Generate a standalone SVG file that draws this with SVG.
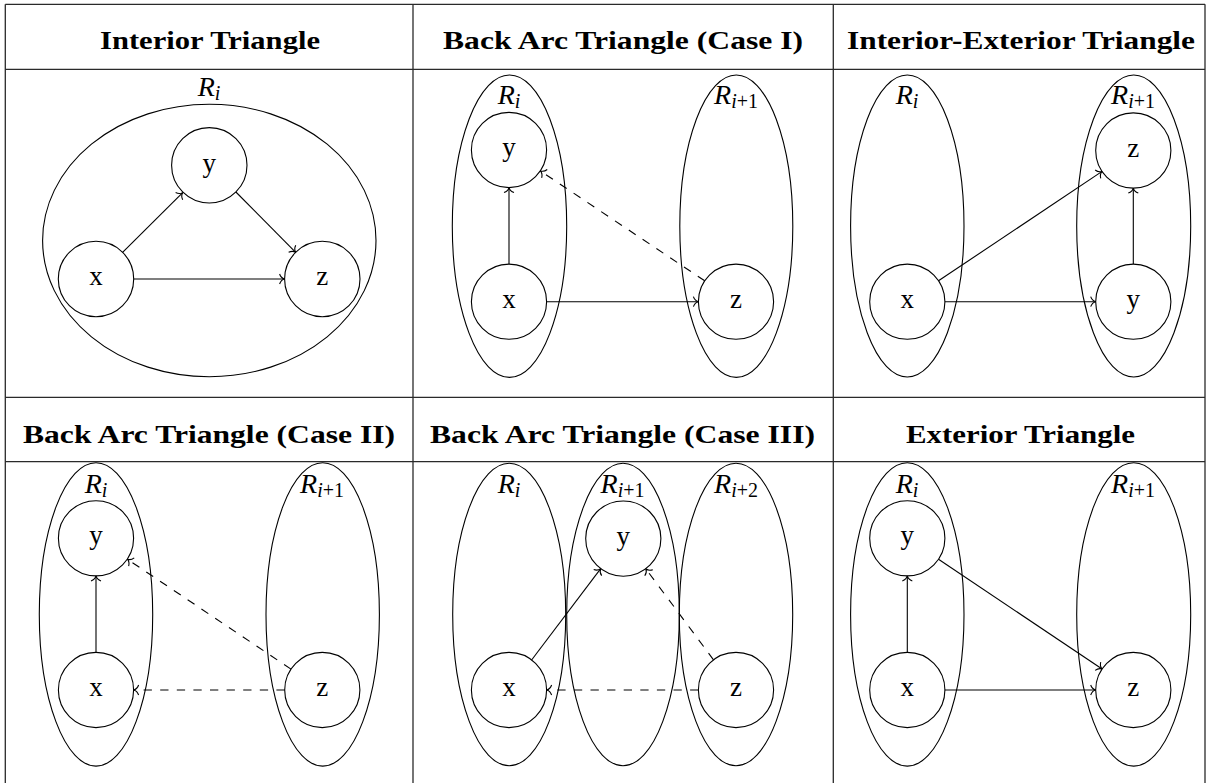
<svg xmlns="http://www.w3.org/2000/svg" width="1208" height="783" viewBox="0 0 1208 783">
<style>
.grid{stroke:#2a2a2a;stroke-width:1.3;fill:none}
.hdr{font-family:"Liberation Serif",serif;font-weight:bold;font-size:26px;fill:#000;text-anchor:middle}
.reg{fill:none;stroke:#000;stroke-width:1.1}
.nd{fill:none;stroke:#000;stroke-width:1.1}
.lbl{font-family:"Liberation Serif",serif;font-size:27px;fill:#000;text-anchor:middle}
.rl{font-family:"Liberation Serif",serif;font-size:28px;font-style:italic;fill:#000;text-anchor:middle}
.sub{font-size:20px}
.up{font-style:normal}
.e{fill:none;stroke:#000;stroke-width:1.1;marker-end:url(#arr)}
.d{stroke-dasharray:8.3 8.3}
</style>
<defs>
<marker id="arr" markerUnits="userSpaceOnUse" markerWidth="14" markerHeight="14" viewBox="-7 -7 14 14" refX="0" refY="0" orient="auto" overflow="visible">
<path d="M-5,-5 C-4,-2 -1.6,-0.4 0,0 C-1.6,0.4 -4,2 -5,5" fill="none" stroke="#000" stroke-width="1.1" stroke-dasharray="none"/>
</marker>
</defs>
<rect width="1208" height="783" fill="#fff"/>
<g id="table">
<line class="grid" x1="5.3" y1="4.3" x2="1205" y2="4.3"/>
<line class="grid" x1="5.3" y1="69.3" x2="1205" y2="69.3"/>
<line class="grid" x1="5.3" y1="397.3" x2="1205" y2="397.3"/>
<line class="grid" x1="5.3" y1="461.7" x2="1205" y2="461.7"/>
<line class="grid" x1="5.3" y1="4.3" x2="5.3" y2="783"/>
<line class="grid" x1="413" y1="4.3" x2="413" y2="783"/>
<line class="grid" x1="833.3" y1="4.3" x2="833.3" y2="783"/>
<line class="grid" x1="1205" y1="4.3" x2="1205" y2="783"/>
<text class="hdr" x="210" y="49" textLength="220" lengthAdjust="spacingAndGlyphs">Interior Triangle</text>
<text class="hdr" x="623" y="49" textLength="360" lengthAdjust="spacingAndGlyphs">Back Arc Triangle (Case I)</text>
<text class="hdr" x="1021" y="49" textLength="348" lengthAdjust="spacingAndGlyphs">Interior-Exterior Triangle</text>
<text class="hdr" x="209" y="443" textLength="372" lengthAdjust="spacingAndGlyphs">Back Arc Triangle (Case II)</text>
<text class="hdr" x="622.5" y="443" textLength="385" lengthAdjust="spacingAndGlyphs">Back Arc Triangle (Case III)</text>
<text class="hdr" x="1020.5" y="443" textLength="229" lengthAdjust="spacingAndGlyphs">Exterior Triangle</text>
</g>

<!-- Cell 1: Interior Triangle -->
<g id="c1-Ri">
<ellipse class="reg" cx="209.3" cy="240.5" rx="166.7" ry="136.2"/>
<text class="rl" x="209" y="96">R<tspan class="sub" dy="4">i</tspan></text>
</g>
<g id="c1-y"><circle class="nd" cx="209.3" cy="165.3" r="37.7"/><text class="lbl" x="209.3" y="171.5">y</text></g>
<g id="c1-x"><circle class="nd" cx="96" cy="279" r="37.7"/><text class="lbl" x="96" y="285">x</text></g>
<g id="c1-z"><circle class="nd" cx="322.3" cy="279" r="37.7"/><text class="lbl" x="322.3" y="285">z</text></g>

<!-- Cell 2: Back Arc Case I -->
<g id="c2-Ri">
<ellipse class="reg" cx="509.5" cy="226.2" rx="57.2" ry="151.2"/>
<text class="rl" x="509" y="104">R<tspan class="sub" dy="4">i</tspan></text>
</g>
<g id="c2-Ri1">
<ellipse class="reg" cx="736.3" cy="226.2" rx="56.5" ry="151.2"/>
<text class="rl" x="736" y="104">R<tspan class="sub" dy="4">i<tspan class="up">+1</tspan></tspan></text>
</g>
<g id="c2-y"><circle class="nd" cx="509" cy="150" r="37.6"/><text class="lbl" x="509" y="156">y</text></g>
<g id="c2-x"><circle class="nd" cx="509" cy="301.7" r="37.6"/><text class="lbl" x="509" y="307.7">x</text></g>
<g id="c2-z"><circle class="nd" cx="736" cy="301.7" r="37.6"/><text class="lbl" x="736" y="307.7">z</text></g>

<!-- Cell 3: Interior-Exterior -->
<g id="c3-Ri">
<ellipse class="reg" cx="907.3" cy="226" rx="56.7" ry="151"/>
<text class="rl" x="907" y="104">R<tspan class="sub" dy="4">i</tspan></text>
</g>
<g id="c3-Ri1">
<ellipse class="reg" cx="1133.7" cy="226" rx="57" ry="151"/>
<text class="rl" x="1133" y="104">R<tspan class="sub" dy="4">i<tspan class="up">+1</tspan></tspan></text>
</g>
<g id="c3-z"><circle class="nd" cx="1133.3" cy="150.5" r="37.6"/><text class="lbl" x="1133.3" y="156.5">z</text></g>
<g id="c3-y"><circle class="nd" cx="1133.3" cy="301.7" r="37.6"/><text class="lbl" x="1133.3" y="307.7">y</text></g>
<g id="c3-x"><circle class="nd" cx="907.3" cy="301.7" r="37.6"/><text class="lbl" x="907.3" y="307.7">x</text></g>

<!-- Cell 4: Back Arc Case II -->
<g id="c4-Ri">
<ellipse class="reg" cx="96" cy="614.4" rx="56.7" ry="151.7"/>
<text class="rl" x="96" y="493">R<tspan class="sub" dy="4">i</tspan></text>
</g>
<g id="c4-Ri1">
<ellipse class="reg" cx="322.7" cy="614.4" rx="56.7" ry="151.7"/>
<text class="rl" x="322" y="493">R<tspan class="sub" dy="4">i<tspan class="up">+1</tspan></tspan></text>
</g>
<g id="c4-y"><circle class="nd" cx="96" cy="538.3" r="37.6"/><text class="lbl" x="96" y="544.3">y</text></g>
<g id="c4-x"><circle class="nd" cx="96" cy="690" r="37.6"/><text class="lbl" x="96" y="696">x</text></g>
<g id="c4-z"><circle class="nd" cx="322.3" cy="690" r="37.6"/><text class="lbl" x="322.3" y="696">z</text></g>

<!-- Cell 5: Back Arc Case III -->
<g id="c5-Ri">
<ellipse class="reg" cx="509.2" cy="614.5" rx="56.5" ry="151.2"/>
<text class="rl" x="509" y="493">R<tspan class="sub" dy="4">i</tspan></text>
</g>
<g id="c5-Ri1">
<ellipse class="reg" cx="623" cy="614.5" rx="56.3" ry="151.2"/>
<text class="rl" x="622.5" y="493">R<tspan class="sub" dy="4">i<tspan class="up">+1</tspan></tspan></text>
</g>
<g id="c5-Ri2">
<ellipse class="reg" cx="736" cy="614.5" rx="56.7" ry="151.2"/>
<text class="rl" x="736" y="493">R<tspan class="sub" dy="4">i<tspan class="up">+2</tspan></tspan></text>
</g>
<g id="c5-y"><circle class="nd" cx="623.3" cy="538.6" r="37.6"/><text class="lbl" x="623.3" y="544.6">y</text></g>
<g id="c5-x"><circle class="nd" cx="509" cy="690" r="37.6"/><text class="lbl" x="509" y="696">x</text></g>
<g id="c5-z"><circle class="nd" cx="736" cy="690" r="37.6"/><text class="lbl" x="736" y="696">z</text></g>

<!-- Cell 6: Exterior -->
<g id="c6-Ri">
<ellipse class="reg" cx="907.3" cy="614.4" rx="56.7" ry="151.7"/>
<text class="rl" x="907" y="493">R<tspan class="sub" dy="4">i</tspan></text>
</g>
<g id="c6-Ri1">
<ellipse class="reg" cx="1133.7" cy="614.4" rx="57" ry="151.7"/>
<text class="rl" x="1133" y="493">R<tspan class="sub" dy="4">i<tspan class="up">+1</tspan></tspan></text>
</g>
<g id="c6-y"><circle class="nd" cx="907.3" cy="538.3" r="37.6"/><text class="lbl" x="907.3" y="544.3">y</text></g>
<g id="c6-x"><circle class="nd" cx="907.3" cy="690" r="37.6"/><text class="lbl" x="907.3" y="696">x</text></g>
<g id="c6-z"><circle class="nd" cx="1133.3" cy="690" r="37.6"/><text class="lbl" x="1133.3" y="696">z</text></g>

<g id="connectors">
<!-- cell 1 -->
<line class="e" x1="122.6" y1="252.3" x2="182.7" y2="192.6"/>
<line class="e" x1="235.9" y1="192" x2="295.7" y2="252.3"/>
<line class="e" x1="133.7" y1="279" x2="284.6" y2="279"/>
<!-- cell 2 -->
<line class="e" x1="509" y1="264.1" x2="509" y2="187.6"/>
<line class="e d" x1="704.7" y1="280.8" x2="540.3" y2="170.9"/>
<line class="e" x1="546.6" y1="301.7" x2="698.4" y2="301.7"/>
<!-- cell 3 -->
<line class="e" x1="938.5" y1="280.8" x2="1102.1" y2="171.4"/>
<line class="e" x1="944.9" y1="301.7" x2="1095.7" y2="301.7"/>
<line class="e" x1="1133.3" y1="264.1" x2="1133.3" y2="188.1"/>
<!-- cell 4 -->
<line class="e" x1="96" y1="652.4" x2="96" y2="575.9"/>
<line class="e d" x1="291" y1="669.1" x2="127.3" y2="559.2"/>
<line class="e d" x1="284.7" y1="690" x2="133.6" y2="690"/>
<!-- cell 5 -->
<line class="e" x1="531.6" y1="660" x2="600.7" y2="568.6"/>
<line class="e d" x1="713.5" y1="659.8" x2="645.8" y2="568.8"/>
<line class="e d" x1="698.4" y1="690" x2="546.6" y2="690"/>
<!-- cell 6 -->
<line class="e" x1="907.3" y1="652.4" x2="907.3" y2="575.9"/>
<line class="e" x1="938.5" y1="559.3" x2="1102.1" y2="669"/>
<line class="e" x1="944.9" y1="690" x2="1095.7" y2="690"/>
</g>
</svg>
